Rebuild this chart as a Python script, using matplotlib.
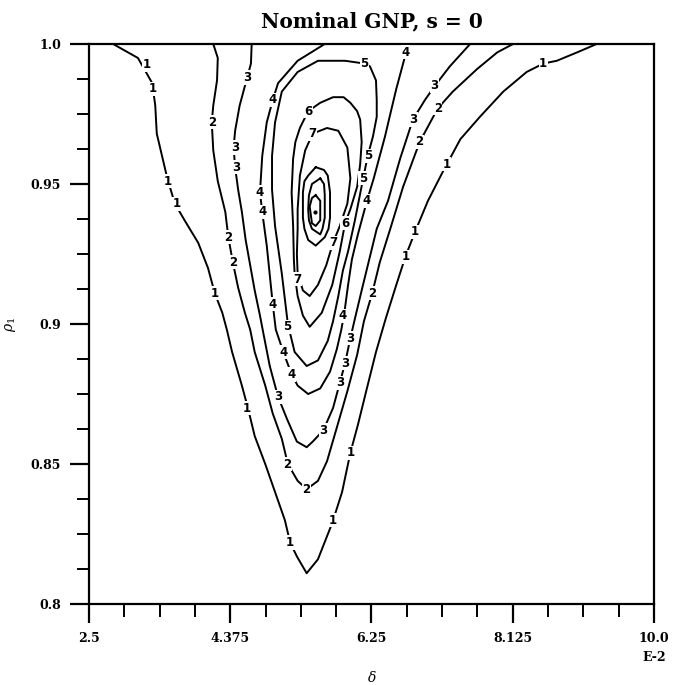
"""Nominal GNP, s = 0 — contour plot of the posterior over (delta, rho_1)"""
import matplotlib
matplotlib.use("Agg")
import matplotlib.pyplot as plt
from matplotlib.ticker import AutoMinorLocator

# =============================================
#  data: contour lines (delta in units of 1E-2)
# =============================================
lev1_x = [2.82, 3.15, 3.34, 3.38, 3.40, 3.47, 3.54, 3.64, 3.77, 3.95, 4.08, 4.17, 4.27, 4.33,
          4.40, 4.53, 4.61, 4.70, 4.84, 4.97, 5.10, 5.17, 5.26, 5.39, 5.54, 5.73, 5.86, 5.97,
          6.07, 6.18, 6.31, 6.44, 6.58, 6.70, 6.83, 7.00, 7.19, 7.43, 7.69, 8.00, 8.31, 8.53,
          8.71, 8.98, 9.24]
lev1_y = [1.000, 0.995, 0.986, 0.978, 0.968, 0.960, 0.952, 0.943, 0.937, 0.929, 0.920, 0.911,
          0.904, 0.898, 0.890, 0.878, 0.870, 0.860, 0.850, 0.840, 0.830, 0.822, 0.817, 0.811,
          0.816, 0.829, 0.840, 0.854, 0.864, 0.876, 0.890, 0.902, 0.914, 0.924, 0.933, 0.944,
          0.954, 0.966, 0.974, 0.983, 0.990, 0.993, 0.994, 0.997, 1.000]

lev2_x = [4.15, 4.21, 4.20, 4.15, 4.13, 4.15, 4.21, 4.31, 4.35, 4.41, 4.48, 4.57, 4.64, 4.70,
          4.84, 4.94, 5.06, 5.14, 5.27, 5.39, 5.54, 5.66, 5.79, 5.93, 6.06, 6.15, 6.26, 6.36,
          6.50, 6.67, 6.89, 7.13, 7.33, 7.65, 7.92, 8.13]
lev2_y = [1.000, 0.995, 0.987, 0.978, 0.972, 0.962, 0.951, 0.940, 0.931, 0.922, 0.913, 0.904,
          0.898, 0.890, 0.878, 0.868, 0.859, 0.850, 0.844, 0.841, 0.844, 0.851, 0.863, 0.876,
          0.889, 0.901, 0.911, 0.922, 0.934, 0.949, 0.965, 0.977, 0.983, 0.991, 0.997, 1.000]

lev3_x = [4.66, 4.65, 4.60, 4.50, 4.44, 4.42, 4.44, 4.48, 4.53, 4.58, 4.64, 4.70, 4.77, 4.82,
          4.90, 5.01, 5.13, 5.26, 5.39, 5.47, 5.61, 5.74, 5.83, 5.90, 5.97, 6.04, 6.12, 6.22,
          6.32, 6.47, 6.63, 6.80, 6.96, 7.09, 7.29, 7.56]
lev3_y = [1.000, 0.993, 0.988, 0.978, 0.969, 0.963, 0.956, 0.948, 0.940, 0.930, 0.921, 0.912,
          0.903, 0.896, 0.885, 0.874, 0.866, 0.858, 0.856, 0.858, 0.862, 0.870, 0.879, 0.886,
          0.895, 0.903, 0.912, 0.923, 0.934, 0.944, 0.959, 0.973, 0.980, 0.985, 0.992, 1.000]

lev4_x = [5.63, 5.27, 5.01, 4.94, 4.86, 4.80, 4.77, 4.80, 4.86, 4.94, 4.98, 5.08, 5.19, 5.27,
          5.41, 5.57, 5.70, 5.79, 5.85, 5.89, 5.94, 5.99, 6.07, 6.19, 6.28, 6.36, 6.43, 6.50,
          6.58, 6.66, 6.70, 6.73]
lev4_y = [1.000, 0.994, 0.986, 0.980, 0.972, 0.960, 0.947, 0.940, 0.928, 0.907, 0.898, 0.890,
          0.882, 0.878, 0.875, 0.877, 0.883, 0.891, 0.898, 0.904, 0.914, 0.923, 0.932, 0.944,
          0.952, 0.960, 0.967, 0.975, 0.984, 0.992, 0.996, 1.000]

lev5_x = [6.16, 5.90, 5.54, 5.27, 5.06, 4.97, 4.93, 4.93, 4.97, 5.06, 5.14, 5.23, 5.39, 5.54,
          5.67, 5.74, 5.81, 5.87, 5.94, 6.03, 6.14, 6.20, 6.27, 6.32, 6.32, 6.31, 6.23, 6.16]
lev5_y = [0.993, 0.994, 0.994, 0.990, 0.983, 0.972, 0.960, 0.948, 0.935, 0.918, 0.900, 0.890,
          0.885, 0.887, 0.894, 0.901, 0.910, 0.919, 0.926, 0.937, 0.952, 0.960, 0.967, 0.974,
          0.980, 0.987, 0.992, 0.993]

lev6_x = [5.41, 5.57, 5.74, 5.88, 5.97, 6.06, 6.10, 6.12, 6.10, 6.06, 5.97, 5.90, 5.83, 5.73,
          5.59, 5.43, 5.34, 5.27, 5.23, 5.22, 5.21, 5.19, 5.21, 5.24, 5.30, 5.41]
lev6_y = [0.976, 0.979, 0.981, 0.981, 0.979, 0.976, 0.973, 0.965, 0.957, 0.949, 0.941, 0.936,
          0.926, 0.914, 0.904, 0.899, 0.903, 0.910, 0.918, 0.923, 0.935, 0.947, 0.959, 0.965,
          0.970, 0.976]

lev7_x = [5.47, 5.66, 5.81, 5.93, 5.97, 5.93, 5.83, 5.74, 5.65, 5.54, 5.43, 5.34, 5.27, 5.26,
          5.27, 5.27, 5.30, 5.37, 5.47]
lev7_y = [0.968, 0.970, 0.969, 0.963, 0.952, 0.943, 0.935, 0.929, 0.921, 0.914, 0.910, 0.912,
          0.918, 0.925, 0.934, 0.941, 0.953, 0.962, 0.968]

lev8_x = [5.51, 5.62, 5.67, 5.70, 5.70, 5.68, 5.63, 5.51, 5.41, 5.36, 5.34, 5.34, 5.36, 5.41, 5.51]
lev8_y = [0.956, 0.955, 0.953, 0.947, 0.938, 0.934, 0.931, 0.928, 0.930, 0.934, 0.938, 0.947,
          0.951, 0.953, 0.956]

lev9_x = [5.57, 5.62, 5.63, 5.63, 5.60, 5.57, 5.46, 5.42, 5.41, 5.42, 5.46, 5.57]
lev9_y = [0.952, 0.950, 0.946, 0.938, 0.934, 0.932, 0.934, 0.937, 0.941, 0.946, 0.950, 0.952]

lev10_x = [5.51, 5.57, 5.57, 5.51, 5.46, 5.43, 5.46, 5.51]
lev10_y = [0.946, 0.944, 0.937, 0.935, 0.936, 0.942, 0.945, 0.946]

peak_x = [5.50]
peak_y = [0.940]

# inline labels of the contour lines
label_x = [3.27, 3.35, 3.54, 3.67, 4.17, 4.60, 5.17, 5.74, 5.97, 6.70, 6.83, 7.25, 8.53,
           4.13, 4.35, 4.41, 5.13, 5.39, 6.26, 6.89, 7.13,
           4.60, 4.44, 4.46, 5.01, 5.61, 5.83, 5.90, 5.97, 6.80, 7.09,
           4.94, 4.77, 4.80, 4.94, 5.08, 5.19, 5.87, 6.19, 6.70,
           6.16, 5.13, 6.20, 6.14,
           5.41, 5.90,
           5.47, 5.74, 5.27]
label_y = [0.9925, 0.984, 0.951, 0.943, 0.911, 0.870, 0.822, 0.830, 0.854, 0.924, 0.933, 0.957, 0.993,
           0.972, 0.931, 0.922, 0.850, 0.841, 0.911, 0.965, 0.977,
           0.988, 0.963, 0.956, 0.874, 0.862, 0.879, 0.886, 0.895, 0.973, 0.985,
           0.980, 0.947, 0.940, 0.907, 0.890, 0.882, 0.903, 0.944, 0.997,
           0.993, 0.899, 0.960, 0.952,
           0.976, 0.936,
           0.968, 0.929, 0.916]
label_txt = ["1"] * 13 + ["2"] * 8 + ["3"] * 10 + ["4"] * 9 + ["5"] * 4 + ["6"] * 2 + ["7"] * 3

x_ticks = [2.5, 4.375, 6.25, 8.125, 10.0]
x_tick_labels = ["2.5", "4.375", "6.25", "8.125", "10.0"]
y_ticks = [0.8, 0.85, 0.9, 0.95, 1.0]
y_tick_labels = ["0.8", "0.85", "0.9", "0.95", "1.0"]

LINES = [(lev1_x, lev1_y), (lev2_x, lev2_y), (lev3_x, lev3_y), (lev4_x, lev4_y),
         (lev5_x, lev5_y), (lev6_x, lev6_y), (lev7_x, lev7_y), (lev8_x, lev8_y),
         (lev9_x, lev9_y), (lev10_x, lev10_y)]

# =============================================
#  plot
# =============================================
plt.rcParams["font.family"] = ["DejaVu Serif"]
plt.rcParams["mathtext.fontset"] = "dejavuserif"

fig = plt.figure(figsize=(6.73, 6.85), dpi=100)
ax = fig.add_axes([0.1322, 0.1182, 0.8395, 0.8176])

for xs, ys in LINES:
    ax.plot(xs, ys, color="black", linewidth=1.4, solid_joinstyle="round", zorder=2)
ax.plot(peak_x, peak_y, "o", color="black", markersize=2, zorder=2)

for x, y, t in zip(label_x, label_y, label_txt):
    ax.text(x, y, t, ha="center", va="center", fontsize=8.5, fontweight="bold",
            family="DejaVu Sans",
            bbox=dict(boxstyle="square,pad=0.05", fc="white", ec="none"), zorder=3)

ax.set_xlim(2.5, 10.0)
ax.set_ylim(0.8, 1.0)
ax.set_xticks(x_ticks)
ax.set_xticklabels(x_tick_labels, fontsize=9, fontweight="bold")
ax.set_yticks(y_ticks)
ax.set_yticklabels(y_tick_labels, fontsize=9, fontweight="bold")
ax.xaxis.set_minor_locator(AutoMinorLocator(4))
ax.yaxis.set_minor_locator(AutoMinorLocator(4))
ax.tick_params(axis="both", which="major", direction="out", length=14, width=1.6, pad=6)
ax.tick_params(axis="both", which="minor", direction="out", length=9, width=1.4)
for sp in ax.spines.values():
    sp.set_linewidth(1.6)

ax.set_title("Nominal GNP, s = 0", fontsize=14.5, fontweight="bold", pad=12)
ax.set_xlabel(r"$\delta$", fontsize=10)
ax.set_ylabel(r"$\rho_1$", fontsize=10)
ax.xaxis.set_label_coords(0.5, -0.118)
ax.yaxis.set_label_coords(-0.125, 0.5)
ax.text(1.0, -0.095, "E-2", transform=ax.transAxes, ha="center", va="center",
        fontsize=9, fontweight="bold")

fig.savefig("out.png", dpi=100)
plt.close(fig)
